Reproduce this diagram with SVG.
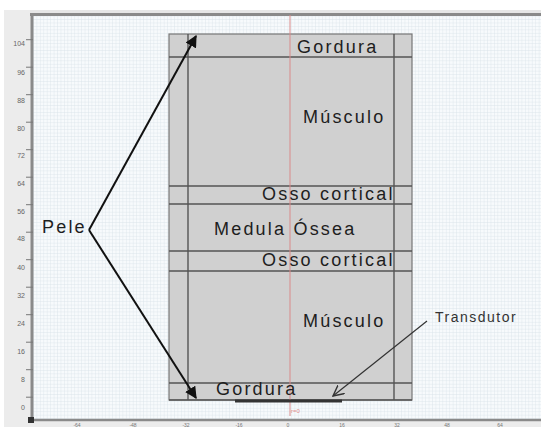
<svg xmlns="http://www.w3.org/2000/svg" width="541" height="427" viewBox="0 0 541 427">
  <defs>
    <pattern id="grid" width="3.44" height="3.44" patternUnits="userSpaceOnUse" x="33" y="397.5">
      <rect width="3.44" height="3.44" fill="#f7fafc"/>
      <path d="M0 0H3.44M0 0V3.44" stroke="#d6dfe7" stroke-width="0.7" fill="none"/>
    </pattern>
    <marker id="solid" viewBox="0 0 10 10" refX="9" refY="5" markerWidth="6" markerHeight="6" orient="auto" markerUnits="strokeWidth">
      <path d="M0 0L10 5L0 10Z" fill="#111"/>
    </marker>
    <marker id="open" viewBox="0 0 10 10" refX="9" refY="5" markerWidth="10" markerHeight="10" orient="auto" markerUnits="strokeWidth">
      <path d="M0 0.5L9 5L0 9.5" fill="none" stroke="#333" stroke-width="1.2"/>
    </marker>
    <style>
      .lbl { font-family: "Liberation Sans", Arial, sans-serif; font-size: 18px; fill: #1e1e1e; letter-spacing: 2.2px; }
      .tick { font-family: "Liberation Sans", Arial, sans-serif; font-size: 7px; fill: #666; text-anchor: end; }
      .xtick { font-family: "Liberation Sans", Arial, sans-serif; font-size: 5px; fill: #777; text-anchor: middle; }
      .layer { stroke: #555; stroke-width: 1.4; }
    </style>
  </defs>

  <!-- page and axes frame -->
  <rect width="541" height="427" fill="#ffffff"/>
  <rect x="4" y="10" width="29" height="417" fill="#ececec"/>
  <rect x="30" y="10" width="511" height="6" fill="#e6e6e6"/>
  <rect x="33" y="16" width="508" height="403" fill="url(#grid)"/>
  <line x1="30" y1="14.5" x2="541" y2="14.5" stroke="#8a8a8a" stroke-width="3"/>
  <line x1="32" y1="14" x2="32" y2="421" stroke="#8a8a8a" stroke-width="3"/>
  <rect x="4" y="419" width="537" height="8" fill="#ececec"/>
  <line x1="30" y1="420" x2="541" y2="420" stroke="#8a8a8a" stroke-width="2.5"/>
  <rect x="28" y="417" width="6" height="6" fill="#333"/>

  <!-- y axis ticks -->
  <g id="y-axis" stroke="#777" stroke-width="1">
    <line x1="26" y1="39.7" x2="33" y2="39.7"/>
    <line x1="26" y1="67.2" x2="33" y2="67.2"/>
    <line x1="26" y1="94.7" x2="33" y2="94.7"/>
    <line x1="26" y1="122.2" x2="33" y2="122.2"/>
    <line x1="26" y1="149.7" x2="33" y2="149.7"/>
    <line x1="26" y1="177.2" x2="33" y2="177.2"/>
    <line x1="26" y1="204.7" x2="33" y2="204.7"/>
    <line x1="26" y1="232.2" x2="33" y2="232.2"/>
    <line x1="26" y1="259.7" x2="33" y2="259.7"/>
    <line x1="26" y1="287.2" x2="33" y2="287.2"/>
    <line x1="26" y1="314.7" x2="33" y2="314.7"/>
    <line x1="26" y1="342.2" x2="33" y2="342.2"/>
    <line x1="26" y1="369.7" x2="33" y2="369.7"/>
    <line x1="26" y1="397.2" x2="33" y2="397.2"/>
  </g>
  <g id="y-labels">
    <text class="tick" x="25" y="45.5">104</text>
    <text class="tick" x="25" y="74.5">96</text>
    <text class="tick" x="25" y="103">88</text>
    <text class="tick" x="25" y="130.5">80</text>
    <text class="tick" x="25" y="158">72</text>
    <text class="tick" x="25" y="185.5">64</text>
    <text class="tick" x="25" y="213.5">56</text>
    <text class="tick" x="25" y="241">48</text>
    <text class="tick" x="25" y="269.5">40</text>
    <text class="tick" x="25" y="297.5">32</text>
    <text class="tick" x="25" y="325.5">24</text>
    <text class="tick" x="25" y="354">16</text>
    <text class="tick" x="25" y="382">8</text>
    <text class="tick" x="25" y="409.5">0</text>
  </g>
  <g id="x-labels">
    <text class="xtick" x="77" y="426.5">-64</text>
    <text class="xtick" x="133" y="426.5">-48</text>
    <text class="xtick" x="186" y="426.5">-32</text>
    <text class="xtick" x="239" y="426.5">-16</text>
    <text class="xtick" x="288" y="426.5">0</text>
    <text class="xtick" x="342" y="426.5">16</text>
    <text class="xtick" x="397" y="426.5">32</text>
    <text class="xtick" x="447" y="426.5">48</text>
    <text class="xtick" x="500" y="426.5">64</text>
  </g>

  <!-- tissue block -->
  <g id="tissue">
    <rect x="169" y="34" width="243" height="366" fill="#d0d0d0" stroke="#777" stroke-width="1.2"/>
    <line class="layer" x1="188" y1="34" x2="188" y2="400"/>
    <line class="layer" x1="394" y1="34" x2="394" y2="400"/>
    <line class="layer" x1="169" y1="57" x2="412" y2="57"/>
    <line class="layer" x1="169" y1="186" x2="412" y2="186"/>
    <line class="layer" x1="169" y1="204" x2="412" y2="204"/>
    <line class="layer" x1="169" y1="251" x2="412" y2="251"/>
    <line class="layer" x1="169" y1="271" x2="412" y2="271"/>
    <line class="layer" x1="169" y1="383" x2="412" y2="383"/>
    <line class="layer" x1="169" y1="400" x2="412" y2="400"/>
  </g>

  <!-- symmetry axis r=0 -->
  <g id="axis-r0">
    <line x1="290" y1="15" x2="290" y2="416" stroke="#d98a8a" stroke-width="1"/>
    <text x="291" y="413" font-family="Liberation Sans, Arial, sans-serif" font-size="6" fill="#e08a8a">r=0</text>
  </g>

  <!-- transducer -->
  <g id="transducer">
    <line x1="235" y1="401" x2="342" y2="401" stroke="#333" stroke-width="3"/>
  </g>

  <!-- layer labels -->
  <g id="layer-labels">
    <text class="lbl" x="297" y="53">Gordura</text>
    <text class="lbl" x="303" y="123">Músculo</text>
    <text class="lbl" x="262" y="200">Osso cortical</text>
    <text class="lbl" x="214" y="235">Medula Óssea</text>
    <text class="lbl" x="262" y="266">Osso cortical</text>
    <text class="lbl" x="303" y="327">Músculo</text>
    <text class="lbl" x="216" y="395">Gordura</text>
  </g>

  <g id="pele">
    <text class="lbl" x="42" y="233" letter-spacing="1.5">Pele</text>
  </g>
  <g id="transdutor">
    <text x="435" y="322" font-family="Liberation Sans, Arial, sans-serif" font-size="14" fill="#333" letter-spacing="1.5">Transdutor</text>
  </g>

  <!-- connectors -->
  <g id="connectors" fill="none">
    <line x1="89" y1="230" x2="196" y2="36" stroke="#111" stroke-width="2" marker-end="url(#solid)"/>
    <line x1="89" y1="230" x2="196" y2="398" stroke="#111" stroke-width="2" marker-end="url(#solid)"/>
    <line x1="427" y1="321" x2="333" y2="396" stroke="#333" stroke-width="1.2" marker-end="url(#open)"/>
  </g>
</svg>
